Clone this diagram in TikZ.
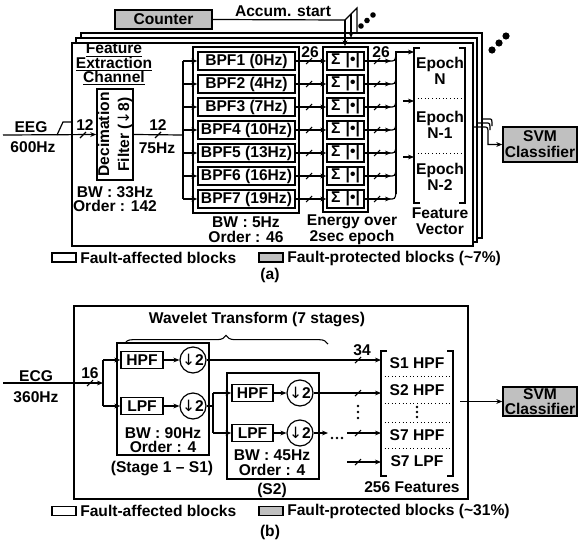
\documentclass[tikz,border=0pt]{standalone}
\usepackage{fontspec}
\setmainfont{Liberation Sans}
\newfontfamily\dejavu{DejaVu Sans}
\usetikzlibrary{arrows.meta,decorations.pathreplacing,calc}
\definecolor{gfill}{RGB}{192,192,192}
\newcommand\busmark[2]{\draw[line width=0.8pt] (#1-3,#2+3) -- (#1+3,#2-3);}
\newcommand\dnar{{\dejavu\mdseries ↓}}
\begin{document}
\begin{tikzpicture}[x=0.75pt,y=-0.75pt,
  font=\fontsize{11.7}{12}\selectfont\bfseries,
  blk/.style={draw,line width=1.1pt,fill=white,inner sep=0pt,align=center},
  gblk/.style={blk,fill=gfill},
  wire/.style={line width=0.9pt},
  arr/.style={wire,-{Stealth[length=4.5pt,width=3.6pt]}},
  txt/.style={inner sep=0pt,align=center},
  dn/.style={draw,circle,line width=0.9pt,minimum size=19.5pt,inner sep=0pt,fill=white},
  frm/.style={draw,line width=1.1pt,fill=white},
  dotl/.style={dotted,line width=0.7pt},
  lgd/.style={draw,line width=0.9pt,minimum width=18pt,minimum height=6.75pt,inner sep=0pt}
]
\useasboundingbox (0,0) rectangle (578,546);

% ================= (a) =================
\node[gblk,minimum width=72.75pt,minimum height=14.5pt] (counter) at (163.5,19.5) {Counter};
\node[txt] (accum) at (283,11) {Accum. start};

\draw[frm] (81,33) rectangle (482,238);
\draw[frm] (76,38) rectangle (477,242);
\draw[frm] (72,43) rectangle (473,246);

% feature extraction channel title
\node[txt] (fe1) at (114,50) {\underline{Feature}};
\node[txt] (fe2) at (114,64) {\underline{Extraction}};
\node[txt] (fe3) at (114,78) {\underline{Channel}};

% EEG input
\node[txt] (eeg) at (31,127) {EEG};
\node[txt] (eegf) at (33,147) {600Hz};
\coordinate (eegin) at (3,135);
\node[blk,minimum width=27pt,minimum height=68.25pt] (dec) at (115,134.5) {};
\node[txt,rotate=90,font=\fontsize{11.7}{15}\selectfont\bfseries] (dect) at (dec.center) {Decimation\\Filter (\dnar8)};
\draw[arr] (eegin) -- (dec.west);
\draw[wire] (57,135) -- (63,122) -- (72,122);
\busmark{83}{135}
\node[txt] (n12a) at (85,125) {12};
\node[txt] (dbw) at (115,192) {BW : 33Hz};
\node[txt] (dord) at (115,206) {Order : 142};

\coordinate (fanj) at (183,135);
\draw[wire] (dec.east) -- (fanj);
\busmark{158}{135}
\node[txt] (n12b) at (158,125) {12};
\node[txt] (f75) at (157,148) {75Hz};

% BPF bank
\node[blk,minimum width=79.5pt,minimum height=124.5pt] (bpfbox) at (246,130) {};
\node[blk,minimum width=33.75pt,minimum height=123.75pt] (sigc) at (345.5,129.5) {};
\draw[wire] (183,61) -- (183,199);
\foreach \i/\fq in {1/0,2/4,3/7,4/10,5/13,6/16,7/19} {
  \pgfmathsetmacro\yy{61+23*(\i-1)}
  \node[blk,minimum width=72.75pt,minimum height=13.5pt] (bpf\i) at (246.5,\yy) {BPF\i{} (\fq Hz)};
  \node[blk,minimum width=27.75pt,minimum height=13.5pt] (sig\i) at (345.5,\yy) {Σ\,\,|•|};
  \draw[arr] (183,\yy) -- (bpf\i.west);
  \draw[arr] (bpf\i.east) -- (sig\i.west);
  \busmark{309}{\yy}
  \draw[arr] (sig\i.east) -- (391,\yy);
  \busmark{377}{\yy}
  \draw[wire] (389,\yy) .. controls (395,\yy) .. (396,\yy-6);
}
\node[txt] (n26a) at (310,52) {26};
\node[txt] (n26b) at (381,52) {26};
\node[txt] (bbw) at (246,222) {BW : 5Hz};
\node[txt] (bord) at (246,237) {Order : 46};
\node[txt] (en1) at (352,222) {Energy over};
\node[txt] (en2) at (352,237) {2sec epoch};

% accumulate start
\coordinate (acc1) at (345,20);
\draw[wire] (counter.east) -- (acc1);
\draw[arr] (acc1) -- (acc1 |- sigc.north);
\draw[wire] (acc1) -- (357,8) -- (357,33);
\draw[arr] (351,14) -- (351,38);
\fill (361,26) circle (2.1pt) (367,20.5) circle (2.1pt) (373,15) circle (2.1pt);
\fill (492,50) circle (2.7pt) (499,43) circle (2.7pt) (506,36) circle (2.7pt);

% feature vector
\coordinate (fvN) at (414,52);
\draw[arr] (396,194) -- (396,52) -- (fvN);
\draw[arr] (403,101) -- (414,101);
\draw[arr] (403,157) -- (414,157);
\draw[line width=1pt] (420,48) -- (414,48) -- (414,203) -- (420,203);
\draw[line width=1pt] (459,48) -- (465,48) -- (465,203) -- (459,203);
\draw[dotl] (414,98) -- (465,98);
\draw[dotl] (414,153) -- (465,153);
\node[txt,font=\fontsize{11.7}{12.5}\selectfont\bfseries] (epN) at (440,71) {Epoch\\N};
\node[txt,font=\fontsize{11.7}{12.5}\selectfont\bfseries] (epN1) at (440,125) {Epoch\\N-1};
\node[txt,font=\fontsize{11.7}{12.5}\selectfont\bfseries] (epN2) at (440,177) {Epoch\\N-2};
\node[txt] (fvt) at (440,221) {Feature\\Vector};

% output to SVM
\node[gblk,minimum width=55.5pt,minimum height=26.25pt] (svma) at (540,144.5) {SVM\\Classifier};
\draw[arr] (473,127) -- (483,127) .. controls (488,127) .. (488,134) |- (svma.west);
\draw[wire] (477,123) -- (486,123) .. controls (490,123) .. (490,130);
\draw[wire] (482,119) -- (489,119) .. controls (492,119) .. (492,126);

% legend (a)
\node[lgd,fill=white] (la1) at (64,257.5) {};
\node[txt,anchor=west] (la1t) at (80,258) {Fault-affected blocks};
\node[lgd,fill=gfill] (la2) at (271,257.5) {};
\node[txt,anchor=west] (la2t) at (287,258) {Fault-protected blocks (\textasciitilde7\%)};
\node[txt] (capa) at (270,275) {(a)};

% ================= (b) =================
\draw[frm] (74,306) rectangle (468,499);
\node[txt] (wt) at (257,319) {Wavelet Transform (7 stages)};
\draw[line width=0.8pt,decorate,decoration={brace,amplitude=6.5pt}] (124,344) -- (328,344);

\node[blk,minimum width=69pt,minimum height=84pt] (st1) at (163,399) {};
\node[blk,minimum width=31.5pt,minimum height=12.75pt] (hpf1) at (142,360) {HPF};
\node[dn] (dn1h) at (193,360) {\dnar2};
\node[blk,minimum width=31.5pt,minimum height=12.75pt] (lpf1) at (142,406) {LPF};
\node[dn] (dn1l) at (193,406) {\dnar2};
\draw[arr] (hpf1) -- (dn1h);
\draw[arr] (lpf1) -- (dn1l);
\node[txt] (s1bw) at (163,433) {BW : 90Hz};
\node[txt] (s1or) at (163,447) {Order : 4};
\node[txt] (s1c) at (162,468) {(Stage 1 – S1)};

\node[txt] (ecg) at (36,376) {ECG};
\node[txt] (ecgf) at (36,397) {360Hz};
\coordinate (ecgin) at (3,383);
\coordinate (ecgj) at (103,383);
\draw[arr] (ecgin) -- (ecgj);
\busmark{90}{383}
\node[txt] (n16) at (90,373) {16};
\draw[wire] (103,360) -- (103,406);
\draw[arr] (103,360) -- (hpf1.west);
\draw[arr] (103,406) -- (lpf1.west);

\node[blk,minimum width=69pt,minimum height=79.5pt] (st2) at (273,426) {};
\node[blk,minimum width=30.75pt,minimum height=12.75pt] (hpf2) at (252.5,393) {HPF};
\node[dn] (dn2h) at (300,393) {\dnar2};
\node[blk,minimum width=30.75pt,minimum height=12.75pt] (lpf2) at (252.5,433) {LPF};
\node[dn] (dn2l) at (300,433) {\dnar2};
\draw[arr] (hpf2) -- (dn2h);
\draw[arr] (lpf2) -- (dn2l);
\node[txt] (s2bw) at (272,455) {BW : 45Hz};
\node[txt] (s2or) at (272,470) {Order : 4};
\node[txt] (s2c) at (272,490) {(S2)};

\draw[wire] (dn1l.east) -- (213,406);
\draw[wire] (213,393) -- (213,433);
\draw[arr] (213,393) -- (hpf2.west);
\draw[arr] (213,433) -- (lpf2.west);

% outputs to feature list
\draw[arr] (dn1h.east) -- (381,360);
\busmark{358}{360}
\node[txt] (n34) at (362,350) {34};
\draw[arr] (dn2h.east) -- (381,393);
\busmark{358}{393}
\fill (358,406) circle (1.1pt) (358,412) circle (1.1pt) (358,418) circle (1.1pt);
\draw[arr] (dn2l.east) -- (328,433);
\fill (332,438) circle (1.1pt) (337,438) circle (1.1pt) (342,438) circle (1.1pt);
\draw[arr] (347,433) -- (381,433);
\busmark{358}{433}
\draw[arr] (347,462) -- (381,462);
\busmark{358}{462}

\draw[line width=1pt] (387,351) -- (381,351) -- (381,476) -- (387,476);
\draw[line width=1pt] (447,351) -- (453,351) -- (453,476) -- (447,476);
\draw[dotl] (381,376) -- (453,376);
\draw[dotl] (381,403) -- (453,403);
\draw[dotl] (381,422) -- (453,422);
\draw[dotl] (381,448) -- (453,448);
\node[txt] (f1) at (417,363) {S1 HPF};
\node[txt] (f2) at (417,390) {S2 HPF};
\fill (417,407) circle (1.1pt) (417,412) circle (1.1pt) (417,417) circle (1.1pt);
\node[txt] (f7h) at (417,435) {S7 HPF};
\node[txt] (f7l) at (417,461) {S7 LPF};
\node[txt] (nf) at (412,487) {256 Features};

\node[gblk,minimum width=55.5pt,minimum height=21.75pt,font=\fontsize{11.7}{11}\selectfont\bfseries] (svmb) at (540,401.5) {SVM\\Classifier};
\coordinate (fvout) at (460,401.5);
\draw[arr] (fvout) -- (svmb.west);

% legend (b)
\node[lgd,fill=white] (lb1) at (64,511) {};
\node[txt,anchor=west] (lb1t) at (80,511) {Fault-affected blocks};
\node[lgd,fill=gfill] (lb2) at (271,511) {};
\node[txt,anchor=west] (lb2t) at (287,511) {Fault-protected blocks (\textasciitilde31\%)};
\node[txt] (capb) at (270,532) {(b)};
\end{tikzpicture}
\end{document}
